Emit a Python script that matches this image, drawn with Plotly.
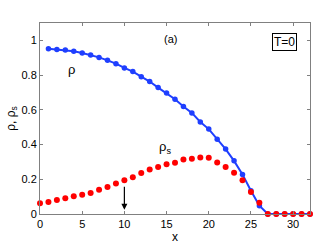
import plotly.graph_objects as go

x_rho = list(range(1, 33))
rho = [0.952, 0.948, 0.944, 0.937, 0.927, 0.916, 0.902, 0.885, 0.866, 0.841,
       0.820, 0.791, 0.763, 0.728, 0.697, 0.661, 0.619, 0.582, 0.530, 0.489,
       0.431, 0.374, 0.306, 0.228, 0.134, 0.048, 0.0, 0.0, 0.0, 0.0, 0.0, 0.0]

x_rhos = list(range(0, 33))
rhos = [0.062, 0.069, 0.080, 0.090, 0.102, 0.111, 0.121, 0.140, 0.155, 0.176,
        0.195, 0.211, 0.236, 0.257, 0.270, 0.286, 0.295, 0.314, 0.318, 0.326,
        0.324, 0.297, 0.270, 0.238, 0.195, 0.126, 0.065, 0.0, 0.0, 0.0, 0.0, 0.0, 0.0]

x_ticks = [0, 5, 10, 15, 20, 25, 30]
y_ticks = [0, 0.2, 0.4, 0.6, 0.8, 1]
y_tick_labels = ["0", "0.2", "0.4", "0.6", "0.8", "1"]

fig = go.Figure()
fig.add_trace(go.Scatter(x=x_rho, y=rho, mode="lines+markers",
                         line=dict(color="#1f3fff", width=2),
                         marker=dict(color="#1f3fff", size=5.5),
                         showlegend=False, cliponaxis=False))
fig.add_trace(go.Scatter(x=x_rhos, y=rhos, mode="markers",
                         marker=dict(color="#ff0000", size=6),
                         showlegend=False, cliponaxis=False))

fam = "Liberation Sans, Arial, sans-serif"
font = dict(family=fam, size=11, color="black")

fig.add_annotation(x=3.7, y=0.83, text="ρ", showarrow=False, font=dict(family=fam, size=13, color="black"))
fig.add_annotation(x=14.8, y=0.385, text="ρ<sub>s</sub>", showarrow=False, font=dict(family=fam, size=13, color="black"))
fig.add_annotation(x=15.5, y=1.01, text="(a)", showarrow=False, font=font)
fig.add_annotation(x=29, y=0.99, text="T=0", showarrow=False, font=dict(family=fam, size=12, color="black"),
                   bordercolor="black", borderwidth=1, borderpad=1, bgcolor="white")
fig.add_annotation(x=10, y=0.025, ax=10, ay=0.165, axref="x", ayref="y",
                   showarrow=True, arrowhead=2, arrowsize=1, arrowwidth=1.2, arrowcolor="black", text="")

axis_common = dict(showgrid=False, zeroline=False, showline=True, linecolor="#808080", linewidth=1,
                   mirror="ticks", ticks="inside", ticklen=3, tickcolor="#808080",
                   tickfont=font, automargin=False)

fig.update_xaxes(range=[0, 32], tickvals=x_ticks, title=dict(text="x", font=dict(family=fam, size=12, color="black"), standoff=0), **axis_common)
fig.update_yaxes(range=[0, 1.1], tickvals=y_ticks, ticktext=y_tick_labels,
                 title=dict(text="ρ, ρ<sub>s</sub>", font=dict(family=fam, size=12, color="black"), standoff=3), **axis_common)

fig.update_layout(width=332, height=249, margin=dict(l=40, r=22, t=23, b=35, autoexpand=False),
                  plot_bgcolor="white", paper_bgcolor="white", font=font)

fig.write_html("out.html", config={"displayModeBar": False},
               post_script="document.body.style.margin='0';")
